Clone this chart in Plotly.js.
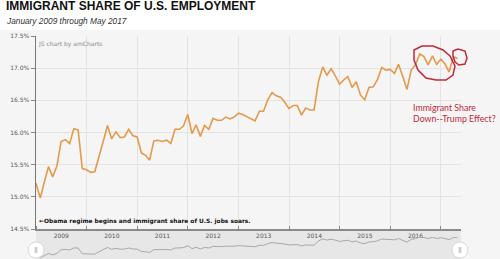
<!DOCTYPE html>
<html>
<head>
<meta charset="utf-8">
<script src="https://cdn.plot.ly/plotly-3.0.1.min.js"></script>
<style>
  html, body { margin: 0; padding: 0; background: #f5f5f5; }
  #chart { width: 500px; height: 259px; }
</style>
</head>
<body>
<div id="chart"></div>
<script>
// Immigrant share of U.S. employment, monthly, January 2009 through May 2017 (percent)
const startYear = 2009;
const share = [
  15.21, 14.98, 15.22, 15.47, 15.31, 15.48, 15.86, 15.89, 15.83, 16.06, 16.04, 15.44,
  15.42, 15.38, 15.39, 15.65, 15.86, 16.11, 15.90, 16.01, 15.92, 15.93, 16.05, 15.95,
  15.93, 15.68, 15.65, 15.57, 15.87, 15.88, 15.86, 15.88, 15.83, 16.05, 16.05, 16.10,
  16.28, 15.98, 16.12, 15.94, 16.11, 16.05, 16.22, 16.19, 16.19, 16.24, 16.21, 16.24,
  16.30, 16.28, 16.25, 16.21, 16.18, 16.33, 16.33, 16.51, 16.62, 16.57, 16.55, 16.47,
  16.37, 16.42, 16.42, 16.27, 16.38, 16.35, 16.35, 16.79, 17.02, 16.89, 16.99, 16.88,
  16.75, 16.82, 16.87, 16.70, 16.79, 16.58, 16.51, 16.70, 16.71, 16.82, 17.01, 16.97,
  16.98, 16.92, 17.06, 16.87, 16.67, 16.97, 17.05, 17.22, 17.18, 17.05, 17.19, 17.06,
  17.14, 17.06, 16.94, 17.18, 17.15
];
const yTicks = [14.5, 15.0, 15.5, 16.0, 16.5, 17.0, 17.5];
const yTickLabels = ['14.5%', '15.0%', '15.5%', '16.0%', '16.5%', '17.0%', '17.5%'];

const months = share.map((v, i) => {
  const y = startYear + Math.floor(i / 12);
  const m = (i % 12) + 1;
  return y + '-' + String(m).padStart(2, '0') + '-01';
});

const W = 500, H = 259;
const px = x => x / W;
const py = y => 1 - y / H;
function pathFrom(pts) {
  return pts.map((p, i) => (i ? 'L' : 'M') + px(p[0]).toFixed(4) + ',' + py(p[1]).toFixed(4)).join(' ') + ' Z';
}

const tickFont = { family: 'DejaVu Sans, Verdana, sans-serif', size: 6, color: '#555' };
const red = '#c2283c';

const traces = [
  {
    x: months, y: share, type: 'scatter', mode: 'lines',
    line: { color: '#e39a4a', width: 1.6 },
    xaxis: 'x', yaxis: 'y', hoverinfo: 'skip'
  },
  {
    x: months, y: share, type: 'scatter', mode: 'lines',
    line: { color: '#a8a8a8', width: 1 },
    xaxis: 'x2', yaxis: 'y2', hoverinfo: 'skip'
  }
];

const layout = {
  width: W, height: H,
  margin: { l: 0, r: 0, t: 0, b: 0 },
  paper_bgcolor: '#f5f5f5',
  plot_bgcolor: 'rgba(0,0,0,0)',
  showlegend: false,
  xaxis: {
    domain: [px(36), px(461)],
    type: 'date',
    range: ['2009-01-01', '2017-05-26'],
    dtick: 'M12', tick0: '2009-01-01',
    ticklabelmode: 'period', tickformat: '%Y',
    showgrid: true, gridcolor: '#e3e3e3', gridwidth: 1,
    showline: true, linecolor: '#8a8a8a', linewidth: 2,
    ticks: 'inside', ticklen: 3, tickcolor: '#8a8a8a',
    tickfont: tickFont, zeroline: false, anchor: 'y', fixedrange: true
  },
  yaxis: {
    domain: [py(229), py(36)],
    range: [14.5, 17.5],
    tickvals: yTicks, ticktext: yTickLabels,
    showgrid: true, gridcolor: '#e3e3e3', gridwidth: 1,
    showline: true, linecolor: '#777', linewidth: 1.5,
    ticks: 'outside', ticklen: 4, tickcolor: '#888',
    tickfont: tickFont, zeroline: false, anchor: 'x', fixedrange: true
  },
  xaxis2: {
    domain: [px(36), px(461)], matches: 'x', anchor: 'y2', visible: false
  },
  yaxis2: {
    domain: [py(258), py(237)],
    range: [Math.min(...share), Math.max(...share)],
    anchor: 'x2', visible: false
  },
  shapes: [
    { type: 'rect', xref: 'paper', yref: 'paper', x0: 0, x1: 1, y0: py(30), y1: 1,
      fillcolor: '#ffffff', line: { width: 0 }, layer: 'below' },
    { type: 'rect', xref: 'paper', yref: 'paper', x0: px(36), x1: px(461), y0: 0, y1: py(229),
      fillcolor: '#e7e7e7', line: { width: 0 }, layer: 'below' },
    { type: 'circle', xref: 'paper', yref: 'paper', x0: px(28), x1: px(44), y0: py(258), y1: py(242),
      fillcolor: '#ffffff', line: { color: '#d8d8d8', width: 1 } },
    { type: 'rect', xref: 'paper', yref: 'paper', x0: px(34.5), x1: px(37.5), y0: py(253), y1: py(247),
      fillcolor: '#cfcfcf', line: { width: 0 } },
    { type: 'circle', xref: 'paper', yref: 'paper', x0: px(452), x1: px(468), y0: py(258), y1: py(242),
      fillcolor: '#ffffff', line: { color: '#d8d8d8', width: 1 } },
    { type: 'rect', xref: 'paper', yref: 'paper', x0: px(458.5), x1: px(461.5), y0: py(253), y1: py(247),
      fillcolor: '#cfcfcf', line: { width: 0 } },
    { type: 'path', xref: 'paper', yref: 'paper',
      path: pathFrom([[414,50],[422,46],[433,46],[443,50],[450,56],[455,66],[453,75],[446,80],[436,80],[426,78],[418,70],[414,60]]),
      line: { color: red, width: 1.5 }, fillcolor: 'rgba(0,0,0,0)' },
    { type: 'path', xref: 'paper', yref: 'paper',
      path: pathFrom([[453,51],[458,49],[465,51],[467,58],[465,64],[459,65],[455,62],[453,56]]),
      line: { color: red, width: 1.5 }, fillcolor: 'rgba(0,0,0,0)' }
  ],
  annotations: [
    { text: '<b>IMMIGRANT SHARE OF U.S. EMPLOYMENT</b>', xref: 'paper', yref: 'paper',
      x: px(4), y: py(6.5), xanchor: 'left', yanchor: 'middle', showarrow: false,
      font: { family: 'Liberation Sans, Arial, sans-serif', size: 12, color: '#111' } },
    { text: '<i>January 2009 through May 2017</i>', xref: 'paper', yref: 'paper',
      x: px(4), y: py(21), xanchor: 'left', yanchor: 'middle', showarrow: false,
      font: { family: 'Liberation Sans, Arial, sans-serif', size: 8.3, color: '#333' } },
    { text: 'JS chart by amCharts', xref: 'paper', yref: 'paper',
      x: px(36), y: py(43.5), xanchor: 'left', yanchor: 'middle', showarrow: false,
      font: { family: 'DejaVu Sans, Verdana, sans-serif', size: 6, color: '#888' } },
    { text: '<b>←Obama regime begins and immigrant share of U.S. jobs soars.</b>', xref: 'paper', yref: 'paper',
      x: px(37), y: py(221), xanchor: 'left', yanchor: 'middle', showarrow: false,
      font: { family: 'DejaVu Sans, Verdana, sans-serif', size: 5.9, color: '#111' } },
    { text: 'Immigrant Share<br>Down--Trump Effect?', xref: 'paper', yref: 'paper',
      x: px(411), y: py(113), xanchor: 'left', yanchor: 'middle', align: 'left', showarrow: false,
      font: { family: 'Lato, Open Sans, sans-serif', size: 8.8, color: red } }
  ]
};

Plotly.newPlot('chart', traces, layout, { displayModeBar: false, staticPlot: true });
</script>
</body>
</html>
